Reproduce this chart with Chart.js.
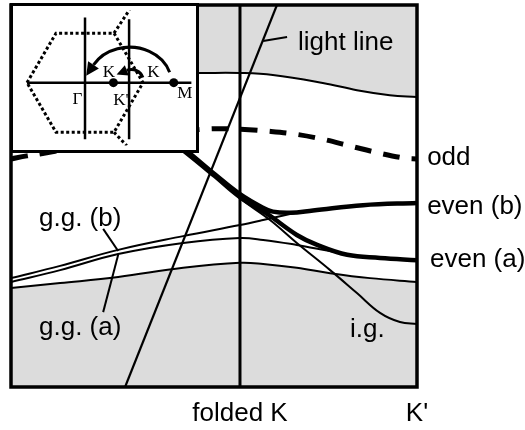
<!DOCTYPE html>
<html>
<head>
<meta charset="utf-8">
<script src="https://cdn.jsdelivr.net/npm/chart.js@4/dist/chart.umd.min.js"></script>
<style>
    html, body { margin: 0; padding: 0; background: #fff; }
    #wrap { position: relative; width: 525px; height: 430px; }
    #wrap canvas { display: block; }
    #inset { position: absolute; left: 10px; top: 3px; width: 189px; height: 150px;
             box-sizing: border-box; border: 3px solid #000; background: #fff; }
</style>
</head>
<body>
<div id="wrap">
    <canvas id="bands" width="525" height="430"></canvas>
    <div id="inset"><canvas id="zone" width="183" height="144"></canvas></div>
</div>
<script>
// wavevector from 0 to K' (=1), frequency normalised 0..1
const foldedK = 0.564;
const kTicks = [foldedK, 1.0];
const kTickLabels = ['folded K', "K'"];

// edges of the grey continua
const upperEdgeK = [0, 0.219, 0.466, 0.564, 0.645, 0.768, 0.852, 0.933, 1.0];
const upperEdgeW = [0.822, 0.822, 0.822, 0.822, 0.817, 0.796, 0.777, 0.764, 0.759];
const lowerEdgeK = [0, 0.121, 0.264, 0.424, 0.564, 0.621, 0.704, 0.786, 0.884, 1.0];
const lowerEdgeW = [0.259, 0.272, 0.288, 0.312, 0.325, 0.322, 0.312, 0.298, 0.285, 0.275];

// guided modes
const oddK = [0, 0.039, 0.071, 0.219, 0.342, 0.473, 0.564, 0.631, 0.700, 0.766, 0.835, 0.904, 0.970, 1.0];
const oddW = [0.597, 0.605, 0.610, 0.639, 0.660, 0.675, 0.675, 0.670, 0.662, 0.649, 0.631, 0.613, 0.599, 0.597];
const evenBK = [0.318, 0.433, 0.502, 0.564, 0.621, 0.645, 0.687, 0.744, 0.867, 1.0];
const evenBW = [0.713, 0.618, 0.557, 0.505, 0.469, 0.459, 0.456, 0.462, 0.476, 0.482];
const evenAK = [0.318, 0.433, 0.502, 0.564, 0.631, 0.704, 0.754, 0.828, 0.909, 1.0];
const evenAW = [0.708, 0.612, 0.552, 0.497, 0.453, 0.398, 0.372, 0.346, 0.338, 0.332];
const igK = [0.318, 0.433, 0.502, 0.564, 0.638, 0.704, 0.786, 0.852, 0.909, 0.958, 1.0];
const igW = [0.712, 0.615, 0.554, 0.494, 0.437, 0.377, 0.306, 0.246, 0.194, 0.170, 0.165];
const ggBK = [0, 0.121, 0.264, 0.424, 0.564, 0.621, 0.687, 0.712];
const ggBW = [0.285, 0.317, 0.359, 0.395, 0.424, 0.437, 0.453, 0.458];
const ggAK = [0, 0.121, 0.264, 0.424, 0.564, 0.621, 0.704, 0.744, 0.786, 0.828];
const ggAW = [0.275, 0.306, 0.348, 0.377, 0.390, 0.385, 0.372, 0.364, 0.356, 0.346];
const lightK = [0.281, 0.655];
const lightW = [0, 1];

// text labels and their pointer lines
const labelText = ['light line', 'odd', 'even (b)', 'even (a)', 'g.g. (b)', 'g.g. (a)', 'i.g.'];
const labelK = [0.707, 1.025, 1.025, 1.032, 0.069, 0.069, 0.835];
const labelW = [0.901, 0.599, 0.471, 0.332, 0.440, 0.154, 0.149];
const leaderFrom = [[0.621, 0.906], [0.227, 0.414], [0.227, 0.196]];
const leaderTo = [[0.680, 0.916], [0.264, 0.356], [0.264, 0.346]];

// Brillouin zone sketch (units of Gamma-corner distance)
const zoneX = [-1, -0.5, 0.5, 1, 0.5, -0.5, -1];
const zoneY = [0, 0.866, 0.866, 0, -0.866, -0.866, 0];
const nextZoneUpX = [0.5, 0.77], nextZoneUpY = [0.866, 1.28];
const nextZoneDnX = [0.5, 0.72], nextZoneDnY = [-0.866, -1.10];
const symX = [0.49, 1.53];
const symY = [0, 0];
const zoneText = ['K', 'K', '\u0393', "K'", 'M'];
const zoneTextX = [0.41, 1.18, -0.13, 0.62, 1.72];
const zoneTextY = [0.17, 0.17, -0.30, -0.31, -0.19];

const pts = (xs, ys) => xs.map((x, i) => ({x: x, y: ys[i]}));

function curve(data, width, extra) {
    return Object.assign({
        data: data,
        showLine: true,
        borderColor: '#000',
        borderWidth: width,
        pointRadius: 0,
        fill: false,
        tension: 0.4
    }, extra || {});
}

const sansFont = '26px "Liberation Sans", Arial, sans-serif';

const annotate = {
    id: 'annotate',
    afterDatasetsDraw(chart) {
        const ctx = chart.ctx, a = chart.chartArea;
        const xs = chart.scales.x, ys = chart.scales.y;
        ctx.save();
        ctx.strokeStyle = '#000';
        ctx.lineWidth = 3.5;
        ctx.strokeRect(a.left, a.top, a.right - a.left, a.bottom - a.top);

        ctx.lineWidth = 2;
        leaderFrom.forEach((p, i) => {
            ctx.beginPath();
            ctx.moveTo(xs.getPixelForValue(p[0]), ys.getPixelForValue(p[1]));
            ctx.lineTo(xs.getPixelForValue(leaderTo[i][0]), ys.getPixelForValue(leaderTo[i][1]));
            ctx.stroke();
        });

        ctx.fillStyle = '#000';
        ctx.font = sansFont;
        ctx.textAlign = 'left';
        ctx.textBaseline = 'middle';
        labelText.forEach((t, i) => {
            ctx.fillText(t, xs.getPixelForValue(labelK[i]), ys.getPixelForValue(labelW[i]));
        });
        ctx.restore();
    }
};

const config1 = {
    type: 'scatter',
    data: {
        datasets: [
            curve(pts(evenBK, evenBW), 4.5),
            curve(pts(evenAK, evenAW), 4.5),
            curve(pts(igK, igW), 2),
            curve(pts(ggBK, ggBW), 2),
            curve(pts(ggAK, ggAW), 2),
            curve(pts(oddK, oddW), 5, {borderDash: [17, 12]}),
            curve(pts(lightK, lightW), 2.2, {tension: 0}),
            curve(pts([foldedK, foldedK], [0, 1]), 3, {tension: 0}),
            curve(pts(upperEdgeK, upperEdgeW), 2, {fill: 'end', backgroundColor: '#dcdcdc'}),
            curve(pts(lowerEdgeK, lowerEdgeW), 2, {fill: 'start', backgroundColor: '#dcdcdc'})
        ]
    },
    options: {
        responsive: false,
        animation: false,
        layout: {padding: {left: 11, right: 108, top: 5, bottom: 0}},
        plugins: {
            legend: {display: false},
            tooltip: {enabled: false}
        },
        scales: {
            x: {
                type: 'linear',
                min: 0,
                max: 1,
                grid: {display: false, drawTicks: false},
                border: {display: false},
                afterBuildTicks: (axis) => { axis.ticks = kTicks.map(v => ({value: v})); },
                afterFit: (axis) => { axis.height = 43; },
                ticks: {
                    padding: 11,
                    color: '#000',
                    font: {family: '"Liberation Sans", Arial, sans-serif', size: 26},
                    maxRotation: 0,
                    autoSkip: false,
                    callback: (value, index) => kTickLabels[index]
                }
            },
            y: {min: 0, max: 1, display: false}
        }
    },
    plugins: [annotate]
};

// arcs with arrow heads in the zone sketch
const zoneArcs = [
    {cx: 0.77, cy: 0, rx: 0.72, ry: 0.62, from: 17, to: 150, head: 13},
    {cx: 0.80, cy: 0.02, rx: 0.21, ry: 0.21, from: 20, to: 112, head: 11}
];

function arcArrow(ctx, xs, ys, a) {
    const cx = xs.getPixelForValue(a.cx), cy = ys.getPixelForValue(a.cy);
    const rx = Math.abs(xs.getPixelForValue(a.cx + a.rx) - cx);
    const ry = Math.abs(ys.getPixelForValue(a.cy + a.ry) - cy);
    const t0 = a.from * Math.PI / 180, t1 = a.to * Math.PI / 180;
    ctx.beginPath();
    ctx.ellipse(cx, cy, rx, ry, 0, -t0, -t1, true);
    ctx.stroke();
    const ex = cx + rx * Math.cos(t1), ey = cy - ry * Math.sin(t1);
    let dx = -rx * Math.sin(t1), dy = -ry * Math.cos(t1);
    const n = Math.hypot(dx, dy);
    dx /= n; dy /= n;
    ctx.beginPath();
    ctx.moveTo(ex + dx * a.head, ey + dy * a.head);
    ctx.lineTo(ex - dy * a.head / 2, ey + dx * a.head / 2);
    ctx.lineTo(ex + dy * a.head / 2, ey - dx * a.head / 2);
    ctx.closePath();
    ctx.fill();
}

const zoneDecor = {
    id: 'zoneDecor',
    afterDatasetsDraw(chart) {
        const ctx = chart.ctx, xs = chart.scales.x, ys = chart.scales.y;
        ctx.save();
        ctx.strokeStyle = '#000';
        ctx.fillStyle = '#000';
        ctx.lineWidth = 3;
        zoneArcs.forEach(a => arcArrow(ctx, xs, ys, a));
        ctx.font = '17px "Liberation Serif", "Times New Roman", serif';
        ctx.textAlign = 'center';
        ctx.textBaseline = 'middle';
        zoneText.forEach((t, i) => {
            ctx.fillText(t, xs.getPixelForValue(zoneTextX[i]), ys.getPixelForValue(zoneTextY[i]));
        });
        ctx.restore();
    }
};

const dotted = {borderDash: [3, 2.5], tension: 0};
const straight = {tension: 0};

const config2 = {
    type: 'scatter',
    data: {
        datasets: [
            {data: pts(symX, symY), pointRadius: 4.5, pointBackgroundColor: '#000', pointBorderWidth: 0},
            curve(pts([-1, 1.84], [0, 0]), 2.5, straight),
            curve(pts([0, 0], [1.14, -0.99]), 2.5, straight),
            curve(pts([0.76, 0.76], [1.11, -0.99]), 2.5, straight),
            curve(pts(zoneX, zoneY), 3, dotted),
            curve(pts(nextZoneUpX, nextZoneUpY), 3, dotted),
            curve(pts(nextZoneDnX, nextZoneDnY), 3, dotted)
        ]
    },
    options: {
        responsive: false,
        animation: false,
        layout: {padding: 0},
        plugins: {
            legend: {display: false},
            tooltip: {enabled: false}
        },
        scales: {
            x: {type: 'linear', min: -1.164, max: 1.836, display: false},
            y: {min: -1.098, max: 1.262, display: false}
        }
    },
    plugins: [zoneDecor]
};

const myChart1 = new Chart(document.getElementById('bands'), config1);
const myChart2 = new Chart(document.getElementById('zone'), config2);
</script>
</body>
</html>
